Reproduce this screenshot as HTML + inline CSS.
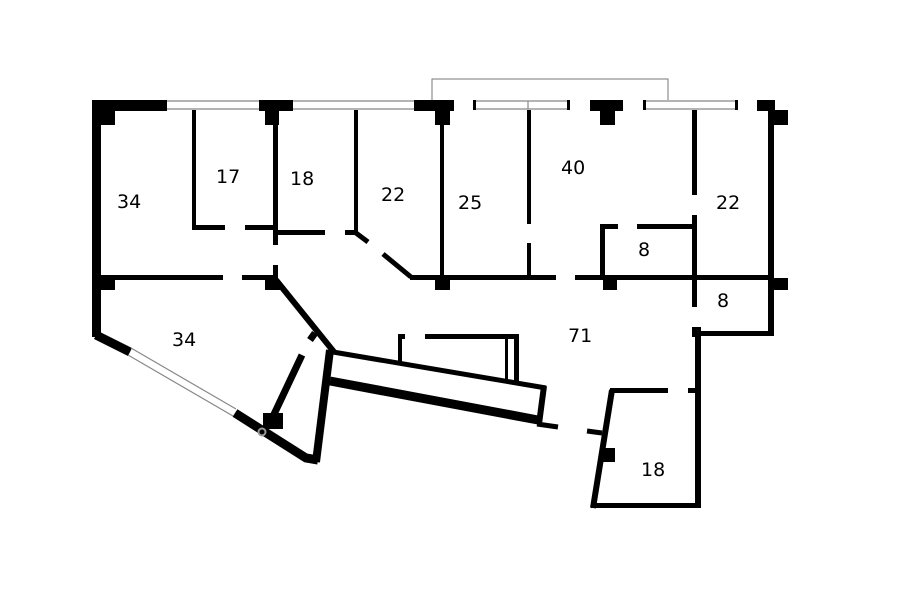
<!DOCTYPE html>
<html><head><meta charset="utf-8"><style>
html,body{margin:0;padding:0;background:#fff;}
svg{display:block;}
text{font-family:"DejaVu Sans","Liberation Sans",sans-serif;font-size:19px;fill:#000;}
</style></head><body>
<svg width="900" height="604" viewBox="0 0 900 604" xmlns="http://www.w3.org/2000/svg">
<rect width="900" height="604" fill="#fff"/>
<!-- balcony -->
<polyline points="432,100 432,79 668,79 668,100" fill="none" stroke="#777" stroke-width="1"/>
<!-- top windows (thin double lines) -->
<g stroke="#888" stroke-width="1.2">
<line x1="167" y1="101" x2="259" y2="101"/><line x1="167" y1="109" x2="259" y2="109"/>
<line x1="293" y1="101" x2="415" y2="101"/><line x1="293" y1="109" x2="415" y2="109"/>
<line x1="473" y1="101" x2="570" y2="101"/><line x1="473" y1="109" x2="570" y2="109"/>
<line x1="528" y1="101" x2="528" y2="109"/>
<line x1="643" y1="101" x2="738" y2="101"/><line x1="643" y1="109" x2="738" y2="109"/>
</g>
<g fill="#000">
<rect x="473" y="100" width="3" height="10"/><rect x="567" y="100" width="3" height="10"/>
<rect x="643" y="100" width="3" height="10"/><rect x="735" y="100" width="3" height="10"/>
<!-- top black blocks -->
<rect x="92" y="100" width="75" height="11"/>
<rect x="259" y="100" width="34" height="11"/>
<rect x="414" y="100" width="40" height="11"/>
<rect x="590" y="100" width="33" height="11"/>
<rect x="757" y="100" width="18" height="11"/>
<!-- pillars -->
<rect x="101" y="110" width="14" height="15"/>
<rect x="265" y="110" width="14" height="15"/>
<rect x="435" y="110" width="15" height="15"/>
<rect x="600" y="110" width="15" height="15"/>
<rect x="773" y="110" width="15" height="15"/>
<rect x="435" y="278" width="15" height="12"/>
<rect x="603" y="278" width="14" height="12"/>
<rect x="773" y="278" width="15" height="12"/>
<rect x="101" y="280" width="14" height="10"/>
<rect x="265" y="280" width="15" height="10"/>
<!-- left wall -->
<rect x="92" y="100" width="9" height="237"/>
<!-- room 17 -->
<rect x="192" y="110" width="4" height="120"/>
<rect x="192" y="225" width="33" height="5"/>
<rect x="245" y="225" width="33" height="5"/>
<!-- wall x 273 -->
<rect x="273" y="110" width="5" height="135"/>
<rect x="273" y="265" width="5" height="15"/>
<!-- room 18 bottom -->
<rect x="278" y="230" width="47" height="5"/>
<rect x="345" y="230" width="13" height="5"/>
<rect x="354" y="110" width="4" height="124"/>
<!-- 22/25 -->
<rect x="440" y="110" width="4" height="168"/>
<!-- 25/40 -->
<rect x="527" y="110" width="4" height="114"/>
<rect x="527" y="243" width="4" height="35"/>
<!-- main horizontal -->
<rect x="410" y="275" width="146" height="5"/>
<rect x="575" y="275" width="199" height="5"/>
<!-- room 34 lower top -->
<rect x="101" y="275" width="122" height="5"/>
<rect x="242" y="275" width="36" height="5"/>
<!-- room 8 upper -->
<rect x="600" y="224" width="5" height="54"/>
<rect x="600" y="224" width="18" height="5"/>
<rect x="637" y="224" width="58" height="5"/>
<!-- wall 692 -->
<rect x="692" y="110" width="5" height="85"/>
<rect x="692" y="215" width="5" height="92"/>
<rect x="692" y="327" width="9" height="10"/>
<rect x="695" y="335" width="6" height="173"/>
<!-- right outer -->
<rect x="768" y="110" width="6" height="226"/>
<rect x="695" y="331" width="79" height="5"/>
<!-- room 18 bottom -->
<rect x="610" y="388" width="58" height="5"/>
<rect x="688" y="388" width="10" height="5"/>
<rect x="591" y="503" width="110" height="5"/>
<rect x="601" y="448" width="14" height="14"/>
<!-- inner box -->
<rect x="398" y="334" width="4" height="28"/>
<rect x="398" y="334" width="7" height="5"/>
<rect x="425" y="334" width="94" height="5"/>
<rect x="514" y="334" width="5" height="48"/>
<rect x="505" y="334" width="3" height="46"/>
<rect x="263" y="413" width="20" height="16"/>
</g>
<g stroke="#000" fill="none" stroke-linecap="butt">
<!-- diagonal 22 -->
<line x1="356" y1="233" x2="368" y2="242" stroke-width="5"/>
<line x1="383" y1="254" x2="411" y2="277" stroke-width="5"/>
<!-- diag lower 34 right -->
<line x1="276" y1="280" x2="334" y2="352" stroke-width="6"/>
<!-- left bottom -->
<polyline points="96,335 130,352" stroke-width="9"/>
<polyline points="235,413 306,458 318,460" stroke-width="9"/>
<line x1="330" y1="350" x2="316" y2="462" stroke-width="8"/>
<!-- inner wedge wall -->
<line x1="302" y1="355" x2="268" y2="427" stroke-width="7"/>
<line x1="315" y1="333" x2="310" y2="340" stroke-width="7"/>
<!-- slab -->
<line x1="333" y1="352" x2="546" y2="388" stroke-width="5"/>
<line x1="544" y1="386" x2="539" y2="424" stroke-width="6"/>
<line x1="330" y1="381" x2="538" y2="420" stroke-width="9"/>
<line x1="537" y1="424" x2="558" y2="427" stroke-width="5"/>
<line x1="587" y1="431" x2="602" y2="433" stroke-width="5"/>
<!-- room 18 left -->
<line x1="612" y1="390" x2="593" y2="508" stroke-width="6"/>
</g>
<!-- window lower-left -->
<g stroke="#888" stroke-width="1.2">
<line x1="131" y1="348" x2="236" y2="409"/><line x1="128" y1="355" x2="233" y2="416"/>
</g>
<circle cx="262" cy="432" r="3.5" fill="none" stroke="#999" stroke-width="2"/>
<text x="117" y="208">34</text>
<text x="216" y="183">17</text>
<text x="290" y="185">18</text>
<text x="381" y="201">22</text>
<text x="458" y="209">25</text>
<text x="561" y="174">40</text>
<text x="716" y="209">22</text>
<text x="638" y="256">8</text>
<text x="717" y="307">8</text>
<text x="568" y="342">71</text>
<text x="172" y="346">34</text>
<text x="641" y="476">18</text>
</svg>
</body></html>
